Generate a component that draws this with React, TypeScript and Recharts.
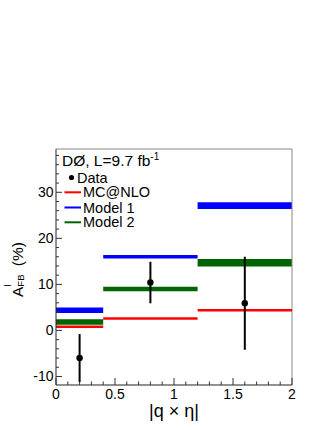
import React from "react";
import {
  ComposedChart,
  XAxis,
  YAxis,
  Scatter,
  ErrorBar,
  ReferenceArea,
  ReferenceLine,
  Legend,
  Label,
} from "recharts";

// bins in |q x eta|
const binLow = [0, 0.4, 1.2];
const binHigh = [0.4, 1.2, 2.0];

// data points
const dataX = [0.2, 0.8, 1.6];
const dataY = [-6.0, 10.4, 5.9];
const dataErr = [5.2, 4.5, 10.1];

// predictions
const mcnlo = [0.8, 2.6, 4.4];
const model1 = [4.4, 16.0, 27.1];
const model1Err = [0.6, 0.4, 0.75];
const model2 = [1.85, 9.0, 14.7];
const model2Err = [0.6, 0.5, 0.8];

const xMajor = [0, 0.5, 1, 1.5, 2];
const xLabels = ["0", "0.5", "1", "1.5", "2"];
const xMinor = [0.1, 0.2, 0.3, 0.4, 0.6, 0.7, 0.8, 0.9, 1.1, 1.2, 1.3, 1.4, 1.6, 1.7, 1.8, 1.9];
const yMajor = [-10, 0, 10, 20, 30];
const yLabels = ["-10", "0", "10", "20", "30"];
const yMinor = [-8, -6, -4, -2, 2, 4, 6, 8, 12, 14, 16, 18, 22, 24, 26, 28, 32, 34, 36, 38];

const legendHeader = "DØ, L=9.7 fb";
const legendHeaderSup = "-1";
const legendNames = ["Data", "MC@NLO", "Model 1", "Model 2"];
const legendColors = ["#000000", "#ff0000", "#0000ff", "#006400"];

const FONT = "'Liberation Sans', Arial, Helvetica, sans-serif";
const PLOT_LEFT = 56;
const PLOT_BOTTOM = 385;

const points = dataX.map((x, i) => ({ x, y: dataY[i], err: dataErr[i] }));

const XTick = (props: any) => {
  const { x, payload } = props;
  const i = xMajor.indexOf(payload.value);
  const major = i >= 0;
  return (
    <g>
      <line x1={x} x2={x} y1={PLOT_BOTTOM} y2={PLOT_BOTTOM - (major ? 7 : 3.5)} stroke="#333" />
      {major && (
        <text x={x} y={PLOT_BOTTOM + 13.5} textAnchor="middle" fontSize={14} fontFamily={FONT} fill="#000">
          {xLabels[i]}
        </text>
      )}
    </g>
  );
};

const YTick = (props: any) => {
  const { y, payload } = props;
  const i = yMajor.indexOf(payload.value);
  const major = i >= 0;
  return (
    <g>
      <line x1={PLOT_LEFT} x2={PLOT_LEFT + (major ? 6 : 3)} y1={y} y2={y} stroke="#333" />
      {major && (
        <text x={PLOT_LEFT - 2.5} y={y + 5} textAnchor="end" fontSize={14} fontFamily={FONT} fill="#000">
          {yLabels[i]}
        </text>
      )}
    </g>
  );
};

const YTitle = () => (
  <text
    transform="rotate(-90)"
    x={-269.5}
    y={22.5}
    textAnchor="middle"
    fontSize={15.5}
    fontFamily={FONT}
    fill="#000"
  >
    <tspan>A</tspan>
    <tspan dy={-12} fontSize={9.5}>l</tspan>
    <tspan dx={-2.2} dy={13.5} fontSize={9.5}>FB</tspan>
    <tspan dx={4} dy={-1.5}> (%)</tspan>
  </text>
);

const XTitle = () => (
  <text x={174} y={417} textAnchor="middle" fontSize={18} fontFamily={FONT} fill="#000">
    |q × η|
  </text>
);

const LegendBox = () => {
  const rowY = [177.5, 192.3, 207.5, 222.3];
  return (
    <svg width={332} height={430} style={{ display: "block" }}>
      <text x={62} y={166} fontSize={15.5} fontFamily={FONT} fill="#000">
        {legendHeader}
        <tspan dy={-6} fontSize={10}>{legendHeaderSup}</tspan>
      </text>
      {legendNames.map((name, i) =>
        i === 0 ? (
          <g key={name}>
            <circle cx={71.5} cy={rowY[i]} r={2.6} fill={legendColors[i]} />
            <text x={77} y={rowY[i] + 5} fontSize={14.5} fontFamily={FONT} fill="#000">
              {name}
            </text>
          </g>
        ) : (
          <g key={name}>
            <line x1={64.5} x2={81} y1={rowY[i]} y2={rowY[i]} stroke={legendColors[i]} strokeWidth={2} />
            <text x={83} y={rowY[i] + 5} fontSize={14.5} fontFamily={FONT} fill="#000">
              {name}
            </text>
          </g>
        )
      )}
    </svg>
  );
};

export default function App() {
  const yDomain: [number, number] = [-11.85, 39.4];
  return (
    <div style={{ position: "absolute", left: 0, top: 0, width: 332, height: 430, background: "#fff" }}>
      <ComposedChart width={332} height={430} margin={{ top: 149, right: 40, bottom: 0, left: 0 }}>
        <XAxis
          dataKey="x"
          type="number"
          domain={[0, 2]}
          ticks={[...xMajor, ...xMinor]}
          interval={0}
          height={45}
          tickSize={0}
          tickMargin={0}
          tickLine={false}
          tick={<XTick />}
          axisLine={{ stroke: "#222" }}
          allowDataOverflow
        >
          <Label content={<XTitle />} />
        </XAxis>
        <YAxis
          type="number"
          domain={yDomain}
          ticks={[...yMajor, ...yMinor]}
          interval={0}
          width={56}
          tickSize={0}
          tickMargin={0}
          tickLine={false}
          tick={<YTick />}
          axisLine={{ stroke: "#222" }}
          allowDataOverflow
        >
          <Label content={<YTitle />} />
        </YAxis>

        {/* frame: top and right edges */}
        <ReferenceLine y={yDomain[1]} stroke="#888" strokeWidth={1} ifOverflow="visible" />
        <ReferenceLine x={2} stroke="#888" strokeWidth={1} ifOverflow="visible" />

        {binLow.map((lo, i) => (
          <ReferenceArea
            key={`m1-${i}`}
            x1={lo}
            x2={binHigh[i]}
            y1={model1[i] - model1Err[i]}
            y2={model1[i] + model1Err[i]}
            fill="#0000ff"
            fillOpacity={1}
            stroke="none"
          />
        ))}
        {binLow.map((lo, i) => (
          <ReferenceArea
            key={`m2-${i}`}
            x1={lo}
            x2={binHigh[i]}
            y1={model2[i] - model2Err[i]}
            y2={model2[i] + model2Err[i]}
            fill="#006400"
            fillOpacity={1}
            stroke="none"
          />
        ))}
        {binLow.map((lo, i) => (
          <ReferenceLine
            key={`mc-${i}`}
            segment={[
              { x: lo, y: mcnlo[i] },
              { x: binHigh[i], y: mcnlo[i] },
            ]}
            stroke="#ff0000"
            strokeWidth={2.5}
          />
        ))}

        <Scatter
          data={points}
          dataKey="y"
          isAnimationActive={false}
          shape={(p: any) => <circle cx={p.cx} cy={p.cy} r={3.2} fill="#000" />}
        >
          <ErrorBar dataKey="err" direction="y" width={0} stroke="#000" strokeWidth={2} />
        </Scatter>

        <Legend
          layout="vertical"
          align="center"
          verticalAlign="middle"
          content={<LegendBox />}
          wrapperStyle={{ position: "absolute", left: 0, top: 0, width: 332, height: 430, pointerEvents: "none" }}
        />
      </ComposedChart>
    </div>
  );
}
